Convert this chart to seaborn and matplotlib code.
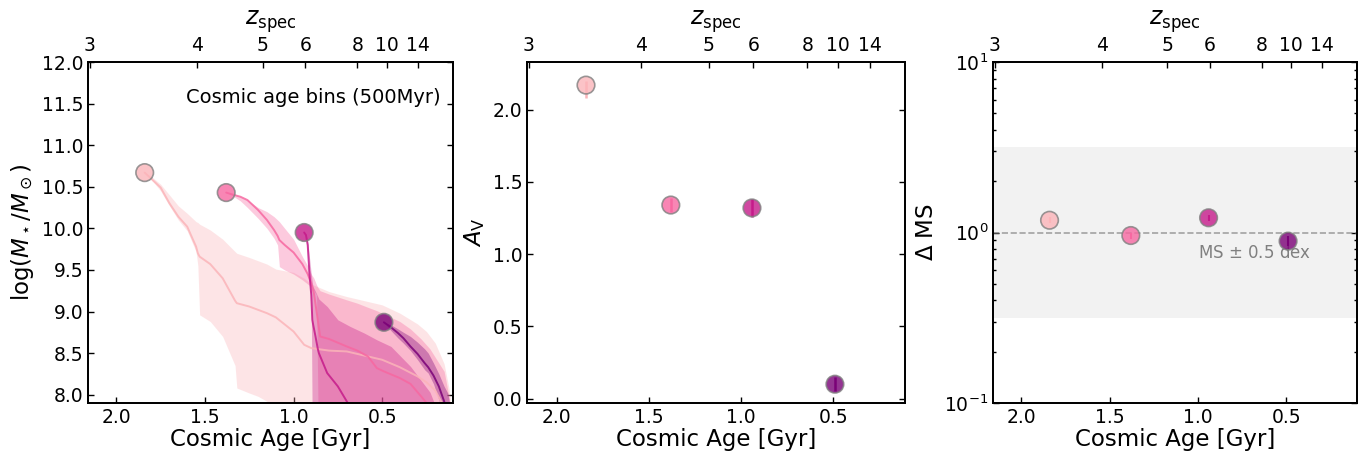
import numpy as np
import pandas as pd
import matplotlib
matplotlib.use("Agg")
import matplotlib.pyplot as plt
import seaborn as sns

# ---------------- data ----------------
bin_names = ["bin1", "bin2", "bin3", "bin4"]
bin_colors = ["#fbb4b9", "#f768a1", "#c51b8a", "#7a0177"]
bin_age = [1.84, 1.38, 0.94, 0.49]          # cosmic age [Gyr]
bin_logm = [10.67, 10.43, 9.95, 8.87]
bin_av = [2.17, 1.34, 1.32, 0.10]
bin_av_lo = [0.09, 0.05, 0.06, 0.05]
bin_av_hi = [0.03, 0.05, 0.06, 0.05]
bin_dms = [1.18, 0.96, 1.22, 0.89]
bin_dms_err = [0.05, 0.04, 0.05, 0.06]

# mass-assembly tracks (median, 16th, 84th percentile)
trk1_age = [1.84, 1.80, 1.75, 1.70, 1.65, 1.60, 1.55, 1.54, 1.53, 1.47, 1.40, 1.33, 1.32,
            1.25, 1.20, 1.15, 1.10, 1.00, 0.94, 0.90, 0.80, 0.70, 0.60, 0.50, 0.40, 0.30,
            0.25, 0.20, 0.15, 0.12, 0.10]
trk1_med = [10.67, 10.59, 10.49, 10.30, 10.14, 10.02, 9.78, 9.70, 9.66, 9.57, 9.40, 9.13, 9.10,
            9.06, 9.02, 8.98, 8.93, 8.76, 8.60, 8.56, 8.53, 8.52, 8.47, 8.42, 8.33, 8.22,
            8.15, 8.05, 7.85, 7.70, 7.60]
trk1_lo = [10.67, 10.58, 10.45, 10.27, 10.10, 9.97, 9.72, 9.55, 8.96, 8.88, 8.70, 8.35, 8.08,
           8.02, 7.98, 7.92, 7.80, 7.50, 7.50, 7.50, 7.50, 7.50, 7.50, 7.50, 7.50, 7.50,
           7.50, 7.50, 7.50, 7.50, 7.50]
trk1_hi = [10.67, 10.62, 10.53, 10.40, 10.27, 10.18, 10.08, 10.07, 10.05, 9.98, 9.87, 9.72, 9.70,
           9.65, 9.61, 9.57, 9.51, 9.47, 9.40, 9.33, 9.24, 9.18, 9.13, 9.08, 8.98, 8.85,
           8.76, 8.62, 8.37, 8.05, 7.60]

trk2_age = [1.38, 1.35, 1.30, 1.26, 1.20, 1.15, 1.11, 1.09, 1.08, 1.05, 1.00, 0.95, 0.92, 0.90,
            0.885, 0.87, 0.86, 0.85, 0.80, 0.70, 0.64, 0.58, 0.53, 0.49, 0.40, 0.34, 0.28,
            0.23, 0.15, 0.12, 0.10]
trk2_med = [10.43, 10.41, 10.38, 10.34, 10.22, 10.10, 9.98, 9.91, 9.86, 9.80, 9.71, 9.57, 9.45,
            9.34, 9.22, 9.00, 8.85, 8.70, 8.67, 8.58, 8.53, 8.46, 8.32, 8.28, 8.20, 8.13, 7.98,
            7.85, 7.60, 7.50, 7.50]
trk2_lo = [10.43, 10.40, 10.33, 10.25, 10.12, 10.00, 9.88, 9.80, 9.54, 9.50, 9.45, 9.38, 9.33,
           9.30, 9.25, 9.20, 7.50, 7.50, 7.50, 7.50, 7.50, 7.50, 7.50, 7.50, 7.50, 7.50, 7.50,
           7.50, 7.50, 7.50, 7.50]
trk2_hi = [10.43, 10.42, 10.38, 10.34, 10.25, 10.20, 10.14, 10.10, 10.08, 10.00, 9.87, 9.66, 9.55,
           9.45, 9.40, 9.32, 9.28, 9.25, 9.21, 9.14, 9.10, 9.05, 9.01, 8.97, 8.88, 8.79, 8.67,
           8.55, 8.28, 7.95, 7.50]

trk3_age = [0.94, 0.93, 0.92, 0.91, 0.90, 0.894, 0.89, 0.876, 0.863, 0.857, 0.81, 0.75, 0.68,
            0.60, 0.53, 0.45, 0.34, 0.23, 0.15, 0.10]
trk3_med = [9.95, 9.92, 9.80, 9.45, 9.20, 8.90, 8.85, 8.70, 8.55, 8.50, 8.26, 8.10, 7.85,
            7.60, 7.50, 7.50, 7.50, 7.50, 7.50, 7.50]
trk3_lo = [9.95, 9.90, 9.75, 9.40, 9.10, 7.50, 7.50, 7.50, 7.50, 7.50, 7.50, 7.50, 7.50,
           7.50, 7.50, 7.50, 7.50, 7.50, 7.50, 7.50]
trk3_hi = [9.95, 9.93, 9.85, 9.65, 9.45, 9.35, 9.30, 9.24, 9.18, 9.15, 9.06, 8.90, 8.82,
           8.74, 8.66, 8.58, 8.34, 8.03, 7.60, 7.50]

trk4_age = [0.49, 0.45, 0.41, 0.38, 0.34, 0.30, 0.26, 0.24, 0.21, 0.18, 0.15, 0.13, 0.11, 0.10]
trk4_med = [8.87, 8.81, 8.74, 8.68, 8.58, 8.49, 8.38, 8.33, 8.23, 8.10, 7.92, 7.75, 7.60, 7.50]
trk4_lo = [8.87, 8.77, 8.68, 8.62, 8.53, 8.42, 8.30, 8.26, 8.13, 7.94, 7.70, 7.60, 7.50, 7.50]
trk4_hi = [8.87, 8.84, 8.79, 8.75, 8.70, 8.63, 8.55, 8.50, 8.38, 8.25, 8.10, 8.02, 7.80, 7.60]

z_ticks = [3, 4, 5, 6, 8, 10, 14]
age_ticks = [2.0, 1.5, 1.0, 0.5]

# ---------------- style ----------------
sns.set_style("ticks")
plt.rcParams.update({
    "font.family": ["DejaVu Sans"],
    "text.color": "black", "axes.labelcolor": "black",
    "xtick.color": "black", "ytick.color": "black",
    "axes.edgecolor": "black",
    "xtick.direction": "in", "ytick.direction": "in",
    "xtick.labelsize": 13.5, "ytick.labelsize": 13.5,
    "axes.labelsize": 16.5,
    "axes.linewidth": 1.3,
    "xtick.major.size": 4, "ytick.major.size": 4,
    "xtick.minor.size": 2.5, "ytick.minor.size": 2.5,
    "mathtext.default": "it",
})


def age_of_z(z, h0=67.7, om=0.31):
    """Cosmic age [Gyr] at redshift z for flat LCDM (axis transform only)."""
    ol = 1.0 - om
    t_h = 977.8 / h0
    zz = np.asarray(z, float)
    return 2.0 * t_h / (3.0 * np.sqrt(ol)) * np.arcsinh(np.sqrt(ol / om) * (1.0 + zz) ** -1.5)


df = pd.DataFrame({"bin": bin_names, "age": bin_age, "logm": bin_logm,
                   "av": bin_av, "dms": bin_dms})
pal = dict(zip(bin_names, bin_colors))

fig = plt.figure(figsize=(13.65, 4.55), dpi=100)
W, H = 1365.0, 455.0
ax1 = fig.add_axes([88 / W, 1 - 403 / H, 365 / W, 341 / H])
ax2 = fig.add_axes([527 / W, 1 - 403 / H, 378 / W, 341 / H])
ax3 = fig.add_axes([993 / W, 1 - 403 / H, 364 / W, 341 / H])


def dress(ax, xlim):
    ax.set_xlim(*xlim)
    ax.set_xticks(age_ticks)
    ax.set_xticklabels([f"{a:.1f}" for a in age_ticks])
    ax.set_xlabel("Cosmic Age [Gyr]", labelpad=1)
    ax.tick_params(axis="x", which="both", top=False, bottom=True, width=1.0)
    ax.tick_params(axis="y", which="both", left=True, right=True, width=1.0)
    top = ax.twiny()
    top.set_xlim(ax.get_xlim())
    top.set_xticks(age_of_z(z_ticks))
    top.set_xticklabels([str(z) for z in z_ticks])
    top.tick_params(axis="x", direction="in", width=1.0, pad=5)
    top.set_xlabel(r"$z_{\rm spec}$", labelpad=8, fontsize=17)
    for sp in list(ax.spines.values()) + list(top.spines.values()):
        sp.set_visible(True)
        sp.set_color("black")
        sp.set_linewidth(1.3)
    return top


# ---------------- panel 1 ----------------
tracks = [
    (trk1_age, trk1_med, trk1_lo, trk1_hi),
    (trk2_age, trk2_med, trk2_lo, trk2_hi),
    (trk3_age, trk3_med, trk3_lo, trk3_hi),
    (trk4_age, trk4_med, trk4_lo, trk4_hi),
]
for (ta, tm, tl, th), c in zip(tracks, bin_colors):
    ax1.fill_between(ta, tl, th, color=c, alpha=0.35, lw=0, zorder=1)
    sns.lineplot(x=ta, y=tm, color=c, sort=False, lw=1.4, alpha=0.85, ax=ax1, zorder=2)
sns.scatterplot(data=df, x="age", y="logm", hue="bin", palette=pal, s=160,
                edgecolor="gray", linewidth=1.2, alpha=0.8, legend=False, ax=ax1, zorder=5)
ax1.set_ylim(7.9, 12.0)
ax1.set_yticks(np.arange(8.0, 12.01, 0.5))
ax1.set_yticklabels([f"{v:.1f}" for v in np.arange(8.0, 12.01, 0.5)])
ax1.set_ylabel(r"$\mathrm{log}(M_\star/M_\odot)$", labelpad=4)
ax1.text(0.965, 0.895, "Cosmic age bins (500Myr)", transform=ax1.transAxes,
         ha="right", va="center", fontsize=14)
dress(ax1, (2.16, 0.10))

# ---------------- panel 2 ----------------
for i, c in enumerate(bin_colors):
    ax2.errorbar([bin_age[i]], [bin_av[i]], yerr=[[bin_av_lo[i]], [bin_av_hi[i]]],
                 fmt="none", ecolor=c, elinewidth=1.8, zorder=4)
sns.scatterplot(data=df, x="age", y="av", hue="bin", palette=pal, s=160,
                edgecolor="gray", linewidth=1.2, alpha=0.8, legend=False, ax=ax2, zorder=5)
ax2.set_ylim(-0.03, 2.33)
ax2.set_yticks(np.arange(0.0, 2.01, 0.5))
ax2.set_yticklabels([f"{v:.1f}" for v in np.arange(0.0, 2.01, 0.5)])
ax2.set_ylabel(r"$A_{\rm V}$", labelpad=4)
dress(ax2, (2.16, 0.11))

# ---------------- panel 3 ----------------
ax3.set_yscale("log")
ax3.axhspan(10 ** -0.5, 10 ** 0.5, color="gray", alpha=0.1, lw=0, zorder=0)
ax3.axhline(1.0, color="gray", ls="--", lw=1.2, alpha=0.7, zorder=1)
ax3.text(1.0, 0.76, r"MS $\pm$ 0.5 dex", color="gray", fontsize=12,
         ha="left", va="center", zorder=2)
for i, c in enumerate(bin_colors):
    ax3.errorbar([bin_age[i]], [bin_dms[i]], yerr=[[bin_dms_err[i]], [bin_dms_err[i]]],
                 fmt="none", ecolor=c, elinewidth=1.5, zorder=4)
sns.scatterplot(data=df, x="age", y="dms", hue="bin", palette=pal, s=160,
                edgecolor="gray", linewidth=1.2, alpha=0.8, legend=False, ax=ax3, zorder=5)
ax3.set_ylim(0.1, 10)
ax3.set_ylabel(r"$\Delta$ MS", labelpad=4)
dress(ax3, (2.16, 0.10))

fig.savefig("out.png", dpi=100)
